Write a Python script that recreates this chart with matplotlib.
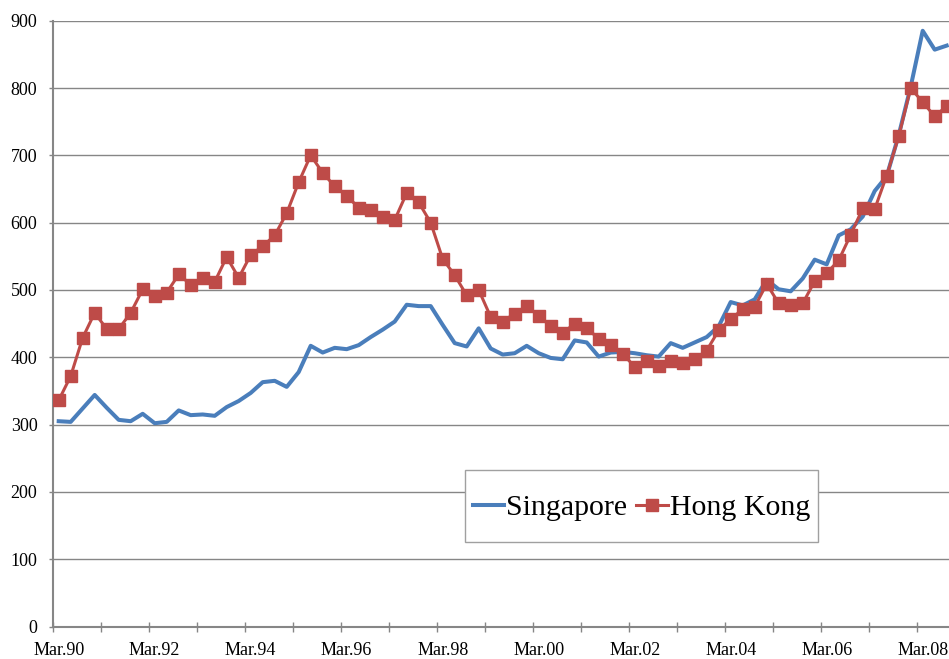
import matplotlib
matplotlib.use("Agg")
import matplotlib.pyplot as plt

# quarterly index, Mar.90 .. Sep.08
singapore = [305, 304, 324, 344, 325, 307, 305, 316, 302, 304, 321, 314, 315,
             313, 326, 335, 347, 363, 365, 356, 378, 417, 407, 414, 412, 418,
             430, 441, 453, 478, 476, 476, 448, 421, 416, 443, 413, 404,
             406, 417, 406, 399, 397, 425, 422, 401, 407, 408, 406, 403, 401,
             421, 414, 422, 430, 446, 482, 477, 486, 515, 501, 498, 517,
             545, 538, 581, 590, 609, 647, 669, 730, 802, 885, 857, 863]
hong_kong = [336, 372, 429, 466, 442, 442, 466, 501, 491, 496, 523, 508, 518,
             512, 549, 518, 552, 565, 581, 614, 660, 700, 674, 654, 640, 622,
             619, 608, 604, 644, 630, 600, 546, 522, 492, 500, 460, 453,
             465, 476, 462, 446, 436, 450, 444, 427, 418, 405, 386, 395, 387,
             395, 392, 397, 410, 440, 457, 471, 475, 509, 480, 477, 480,
             513, 525, 544, 582, 621, 620, 670, 728, 800, 779, 758, 773]
tick_labels = ["Mar.90", "Mar.92", "Mar.94", "Mar.96", "Mar.98",
               "Mar.00", "Mar.02", "Mar.04", "Mar.06", "Mar.08"]

plt.rcParams['font.family'] = ['Liberation Serif', 'DejaVu Serif']
GRAY = '#868686'

fig = plt.figure(figsize=(9.49, 6.59), dpi=100)
ax = fig.add_axes([52.7 / 949, 1 - 626.5 / 659, 900 / 949, 605.8 / 659])

x = list(range(len(singapore)))
ax.plot(x, singapore, color='#4A7EBB', lw=2.9, label='Singapore', zorder=3)
ax.plot(x, hong_kong, color='#BE4B48', lw=2.2, marker='s', markersize=8,
        label='Hong Kong', zorder=4)

ax.set_xlim(-0.5, len(x) - 0.5)
ax.set_ylim(0, 900)
ax.set_yticks(range(0, 901, 100))
ax.grid(axis='y', color=GRAY, lw=1)
ax.set_axisbelow(True)

# tick marks between categories every year, labels every two years
ax.set_xticks([i - 0.5 for i in range(0, len(x), 4)])
ax.set_xticklabels([])
ax.set_xticks(list(range(0, len(x), 8)), minor=True)
ax.set_xticklabels(tick_labels, minor=True)
ax.tick_params(axis='x', which='major', direction='inout', length=7, width=1, color=GRAY)
ax.tick_params(axis='x', which='minor', length=0, pad=11.5, labelsize=13)
ax.tick_params(axis='y', direction='out', length=3, width=1, color=GRAY, pad=8, labelsize=13)

for s in ['top', 'right']:
    ax.spines[s].set_visible(False)
for s in ['left', 'bottom']:
    ax.spines[s].set_color(GRAY)
    ax.spines[s].set_linewidth(1.5)

leg = ax.legend(loc='center', bbox_to_anchor=(641.5 / 949, 1 - 506 / 659),
                bbox_transform=fig.transFigure, ncol=2, fontsize=21.5,
                handlelength=1.05, handleheight=2.6, handletextpad=0.08,
                columnspacing=0.3, borderpad=0.25, fancybox=False, framealpha=1)
leg.get_frame().set_edgecolor('#a0a0a0')
leg.get_frame().set_linewidth(1)
# tall handle boxes push the line up; bring it back to the text middle
for h in leg.legend_handles:
    h.set_ydata([y - 6.5 for y in h.get_ydata()])

fig.savefig('out.png', dpi=100)
